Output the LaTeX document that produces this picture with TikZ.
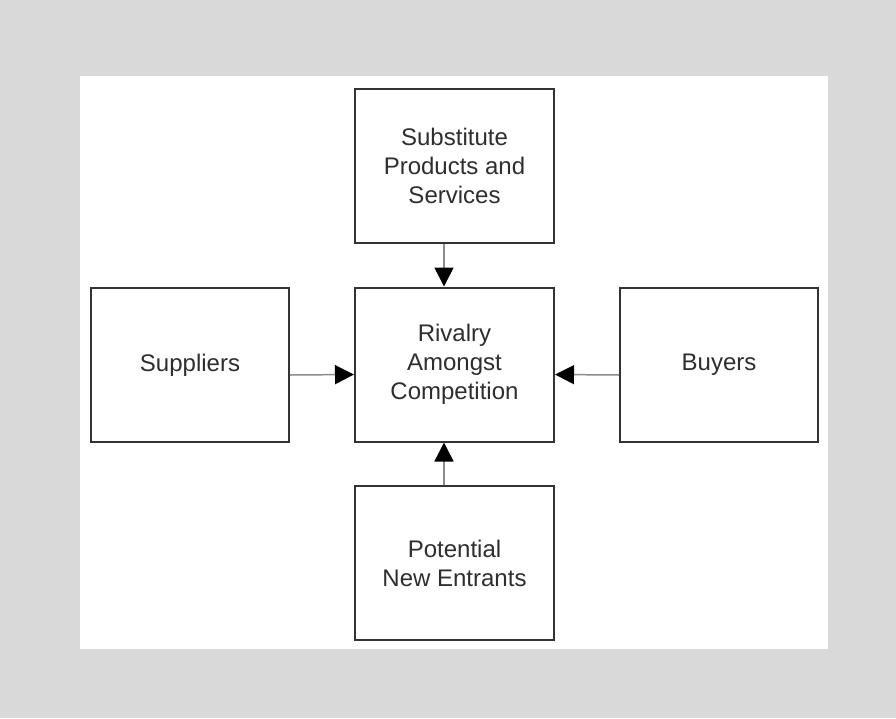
\documentclass[tikz,border=0pt]{standalone}
\usepackage{fontspec}
\setmainfont{Liberation Sans}
\usetikzlibrary{arrows.meta}
\definecolor{pagegray}{HTML}{D9D9D9}
\definecolor{boxline}{HTML}{333333}
\definecolor{shaft}{HTML}{8C8C8C}
\definecolor{inktext}{HTML}{2E2E2E}
\begin{document}
\begin{tikzpicture}[x=1pt,y=-1pt,
  force/.style={draw=boxline, line width=2pt, fill=white, inner sep=0pt,
    minimum width=199pt, minimum height=154pt, align=center,
    text=inktext, font=\fontsize{24}{29}\selectfont},
  pull/.style={draw=shaft, line width=1.5pt,
    -{Triangle[length=19pt,width=19pt,fill=black,color=black]}}]
  % page and panel
  \fill[pagegray] (0,0) rectangle (896,718);
  \fill[white] (80,76) rectangle (828,649);
  \useasboundingbox (0,0) rectangle (896,718);
  % the five forces
  \node[force] (subst) at (454.5,166) {Substitute\\Products and\\Services};
  \node[force] (rival) at (454.5,364.5) {Rivalry\\Amongst\\Competition};
  \node[force, minimum width=198pt] (suppl) at (190,365) {Suppliers};
  \node[force, minimum width=198pt] (buyer) at (719,365) {Buyers};
  \node[force] (entr) at (454.5,563) {Potential\\New Entrants};
  % connectors into the centre
  \draw[pull] ([xshift=-10.5pt]subst.south) -- ([xshift=-10.5pt]rival.north);
  \draw[pull] ([yshift=-10pt]suppl.east) -- ([yshift=-10pt]rival.west);
  \draw[pull] ([yshift=-10pt]buyer.west) -- ([yshift=-10pt]rival.east);
  \draw[pull] ([xshift=-10.5pt]entr.north) -- ([xshift=-10.5pt]rival.south);
\end{tikzpicture}
\end{document}
